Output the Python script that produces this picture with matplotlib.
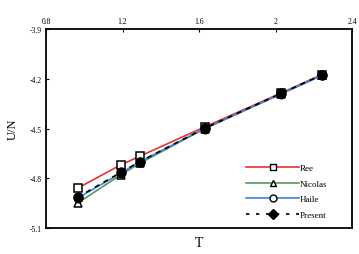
import matplotlib
matplotlib.use("Agg")
import matplotlib.pyplot as plt
from matplotlib.lines import Line2D

# values
temps = [0.965, 1.19, 1.29, 1.63, 2.03, 2.24]
u_ree = [-4.86, -4.72, -4.667, -4.49, -4.285, -4.175]
u_nicolas = [-4.95, -4.78, -4.71, -4.50, -4.29, -4.18]
u_haile = [-4.92, -4.77, -4.70, -4.50, -4.29, -4.18]
u_present = [-4.915, -4.765, -4.70, -4.498, -4.287, -4.177]

x_ticks = [0.8, 1.2, 1.6, 2.0, 2.4]
x_tick_labels = ["0.8", "1.2", "1.6", "2", "2.4"]
y_ticks = [-3.9, -4.2, -4.5, -4.8, -5.1]
y_tick_labels = ["-3.9", "-4.2", "-4.5", "-4.8", "-5.1"]

plt.rcParams["font.family"] = ["Liberation Serif", "DejaVu Serif"]

fig = plt.figure(figsize=(3.59, 2.55), dpi=100)
ax = fig.add_axes([0.128, 0.102, 0.853, 0.780])

red, green, blue = "#e8342c", "#4f9c63", "#3f7fe6"
ax.plot(temps, u_ree, color=red, lw=1.2, marker="s", ms=5.8, mfc="white",
        mec="black", mew=1.1, zorder=3)
ax.plot(temps, u_nicolas, color=green, lw=1.2, marker="^", ms=6, mfc="white",
        mec="black", mew=1.1, zorder=3)
ax.plot(temps, u_haile, color=blue, lw=1.2, marker="o", ms=6, mfc="white",
        mec="black", mew=1.1, zorder=4)
ax.plot(temps, u_present, color="black", lw=1.2, ls=(0, (3, 3)), marker="o",
        ms=6.5, mfc="black", mec="black", zorder=5)

ax.set_xlim(0.8, 2.4)
ax.set_ylim(-5.1, -3.9)
ax.set_xticks(x_ticks)
ax.set_xticklabels(x_tick_labels)
ax.set_yticks(y_ticks)
ax.set_yticklabels(y_tick_labels)
ax.xaxis.tick_top()
ax.tick_params(axis="both", direction="in", length=2.5, width=0.8,
               labelsize=5.5, pad=3)
for s in ax.spines.values():
    s.set_linewidth(1.3)

ax.set_xlabel("T", fontsize=10, labelpad=6)
ax.xaxis.set_label_position("bottom")
ax.set_ylabel("U/N", fontsize=9, labelpad=8)

handles = [
    Line2D([], [], color=red, lw=1.2, marker="s", ms=5, mfc="white", mec="black", mew=1.0),
    Line2D([], [], color=green, lw=1.2, marker="^", ms=5, mfc="white", mec="black", mew=1.0),
    Line2D([], [], color=blue, lw=1.2, marker="o", ms=5, mfc="white", mec="black", mew=1.0),
    Line2D([], [], color="black", lw=1.2, ls=(0, (2, 4)), marker="D", ms=5, mfc="black", mec="black"),
]
ax.legend(handles, ["Ree", "Nicolas", "Haile", "Present"], loc="lower right",
          frameon=False, fontsize=6.5, handlelength=5.8, handletextpad=0.1,
          labelspacing=0.8, bbox_to_anchor=(0.945, 0.005))

fig.savefig("out.png", dpi=100)
